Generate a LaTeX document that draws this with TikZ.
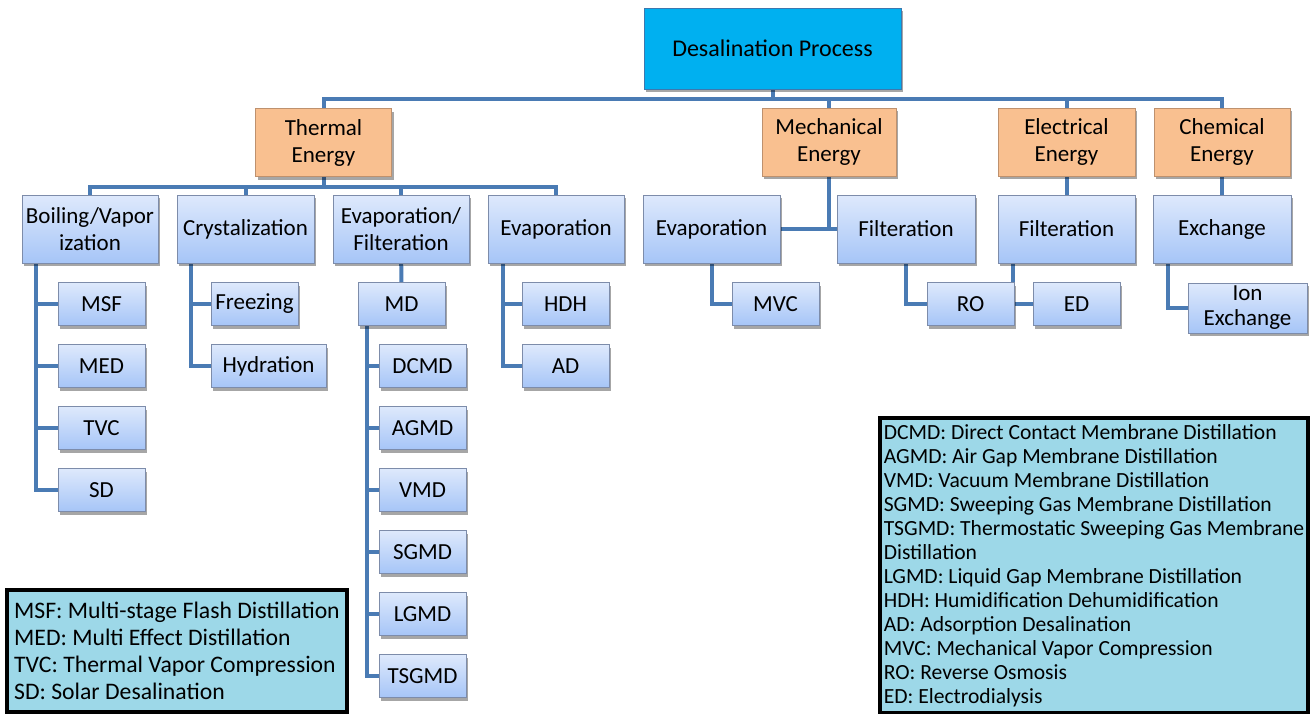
\documentclass[tikz,border=0pt]{standalone}
\usepackage{fontspec}
\setmainfont{Carlito}
\usetikzlibrary{shadows,backgrounds}
\definecolor{rootfill}{RGB}{0,176,240}
\definecolor{rootline}{RGB}{60,120,175}
\definecolor{energyfill}{RGB}{249,192,144}
\definecolor{energyline}{RGB}{190,145,110}
\definecolor{boxtop}{RGB}{222,233,252}
\definecolor{boxbot}{RGB}{166,197,247}
\definecolor{boxline}{RGB}{125,140,170}
\definecolor{connline}{RGB}{74,123,180}
\definecolor{legendfill}{RGB}{157,216,232}
\tikzset{every node/.style={inner sep=2pt, align=center, font=\fontsize{23}{27}\selectfont},
  shade/.style={drop shadow={shadow xshift=2pt, shadow yshift=-3pt, opacity=0.35, fill=black}},
  rootbox/.style={shade, draw=rootline, fill=rootfill, line width=1pt, minimum width=257pt, minimum height=81pt},
  energybox/.style={shade, draw=energyline, fill=energyfill, line width=1pt, minimum width=136pt, minimum height=68pt},
  methodbox/.style={shade, draw=boxline, top color=boxtop, bottom color=boxbot, line width=1pt, minimum width=136pt, minimum height=68pt},
  techbox/.style={shade, draw=boxline, top color=boxtop, bottom color=boxbot, line width=1pt, minimum width=87pt, minimum height=43pt},
  legendbox/.style={draw=black, fill=legendfill, line width=3.5pt, align=left, inner sep=0pt},
  conn/.style={connline, line width=4pt, line join=miter}}

\begin{document}
\begin{tikzpicture}[x=1pt,y=-1pt]
  \useasboundingbox (0,0) rectangle (1310,713);
  \node[rootbox, font=\fontsize{24}{28}\selectfont] (root) at (772.5,48.5) {Desalination Process};
  \node[energybox] (th) at (323.5,142.5) {Thermal\\Energy};
  \node[energybox, minimum width=134pt] (me) at (829,142) {Mechanical\\Energy};
  \node[energybox, minimum width=137pt] (el) at (1066.5,142) {Electrical\\Energy};
  \node[energybox] (ch) at (1222,142) {Chemical\\Energy};

  \node[methodbox] (bv) at (90,229) {Boiling/Vapor\\ization};
  \node[methodbox, minimum width=137pt] (cr) at (245.5,229) {Crystalization};
  \node[methodbox] (ef) at (401,229) {Evaporation/\\Filteration};
  \node[methodbox] (ev) at (556,229) {Evaporation};
  \node[methodbox, minimum width=137pt] (mev) at (711.5,229) {Evaporation};
  \node[methodbox, minimum width=138pt] (mfi) at (906,229) {Filteration};
  \node[methodbox, minimum width=137pt] (efi) at (1066.5,229) {Filteration};
  \node[methodbox, minimum width=138pt] (ex) at (1222,229) {Exchange};

  \node[techbox] (msf) at (101.5,304) {MSF};
  \node[techbox] (med) at (101.5,366) {MED};
  \node[techbox] (tvc) at (101.5,428) {TVC};
  \node[techbox] (sd)  at (101.5,490) {SD};
  \node[techbox] (fr) at (254.5,304) {Freezing};
  \node[techbox, minimum width=115pt] (hy) at (268.5,366) {Hydration};
  \node[techbox] (md) at (401.5,304) {MD};
  \node[techbox] (dcmd)  at (422.5,366) {DCMD};
  \node[techbox] (agmd)  at (422.5,428) {AGMD};
  \node[techbox] (vmd)   at (422.5,490) {VMD};
  \node[techbox] (sgmd)  at (422.5,552) {SGMD};
  \node[techbox] (lgmd)  at (422.5,614) {LGMD};
  \node[techbox] (tsgmd) at (422.5,676) {TSGMD};
  \node[techbox] (hdh) at (565.5,304) {HDH};
  \node[techbox] (ad)  at (565.5,366) {AD};
  \node[techbox] (mvc) at (775.5,304) {MVC};
  \node[techbox] (ro)  at (970.5,304) {RO};
  \node[techbox] (ed)  at (1076.5,304) {ED};
  \node[techbox, minimum width=119pt, minimum height=50pt, inner sep=0pt,
    font=\fontsize{23}{25}\selectfont] (ion) at (1247.5,308) {Ion\\Exchange};

  \node[legendbox, minimum width=340pt, minimum height=122pt,
    font=\fontsize{23.7}{27}\selectfont] (leftkey) at (177,651)
    {MSF: Multi-stage Flash Distillation\\MED: Multi Effect Distillation\\TVC: Thermal Vapor Compression\\SD: Solar Desalination};
  \node[legendbox, minimum width=428pt, minimum height=295pt,
    font=\fontsize{21.6}{24}\selectfont] (rightkey) at (1094,565.5)
    {DCMD: Direct Contact Membrane Distillation\\AGMD: Air Gap Membrane Distillation\\VMD: Vacuum Membrane Distillation\\SGMD: Sweeping Gas Membrane Distillation\\TSGMD: Thermostatic Sweeping Gas Membrane\\Distillation\\LGMD: Liquid Gap Membrane Distillation\\HDH: Humidification Dehumidification\\AD: Adsorption Desalination\\MVC: Mechanical Vapor Compression\\RO: Reverse Osmosis\\ED: Electrodialysis};

  \begin{scope}[on background layer]
    \draw[conn] (root.south) -- ++(0,9.5) coordinate (rootbus) -| (th.north);
    \foreach \n in {me,el,ch} \draw[conn] (rootbus) -| (\n.north);
    \draw[conn] (th.south) -- ++(0,10) coordinate (thbus) -| (bv.north);
    \foreach \n in {cr,ef,ev} \draw[conn] (thbus) -| (\n.north);
    \draw[conn] (me.south) |- (mev.east);
    \draw[conn] (mev.east) -- (mfi.west);
    \draw[conn] (el) -- (efi);
    \draw[conn] (ch) -- (ex);
    \foreach \n in {msf,med,tvc,sd} \draw[conn] ([xshift=14pt]bv.south west) |- (\n.west);
    \foreach \n in {fr,hy} \draw[conn] ([xshift=14pt]cr.south west) |- (\n.west);
    \draw[conn] (ef) -- (md);
    \foreach \n in {dcmd,agmd,vmd,sgmd,lgmd,tsgmd} \draw[conn] ([xshift=9pt]md.south west) |- (\n.west);
    \foreach \n in {hdh,ad} \draw[conn] ([xshift=15pt]ev.south west) |- (\n.west);
    \draw[conn] (mev.south) |- (mvc.west);
    \draw[conn] (mfi.south) |- (ro.west);
    \draw[conn] ([xshift=15pt]efi.south west) |- (ed.west);
    \draw[conn] ([xshift=15pt]ex.south west) |- (ion.west);
  \end{scope}
\end{tikzpicture}
\end{document}
